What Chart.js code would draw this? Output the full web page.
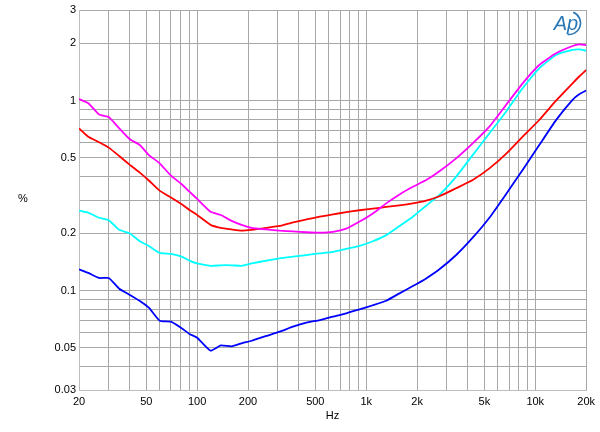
<!DOCTYPE html>
<html>
<head>
<meta charset="utf-8">
<script src="https://cdn.jsdelivr.net/npm/chart.js@4/dist/chart.umd.min.js"></script>
<style>
html,body{margin:0;padding:0;background:#fff;}
#wrap{width:600px;height:432px;position:relative;}
</style>
</head>
<body>
<div id="wrap"><canvas id="c" width="600" height="432"></canvas></div>
<script>
// Frequencies (Hz)
const freqs = [20, 22.7, 26.3, 30, 34.6, 40, 45.8, 51.8, 60, 70, 81, 90, 100, 120, 138, 160, 183, 210, 257, 308, 369, 443, 531, 636, 762, 914, 1095, 1313, 1574, 1888, 2264, 2712, 3405, 4265, 5354, 6716, 8420, 10560, 13270, 16620, 18200, 20000];

// THD+N (%) per trace
const magentaVals = [1.02, 0.97, 0.845, 0.82, 0.715, 0.626, 0.584, 0.517, 0.468, 0.403, 0.363, 0.332, 0.304, 0.260, 0.250, 0.233, 0.222, 0.214, 0.210, 0.207, 0.205, 0.203, 0.202, 0.204, 0.212, 0.231, 0.255, 0.288, 0.321, 0.352, 0.382, 0.425, 0.497, 0.596, 0.730, 0.949, 1.234, 1.54, 1.775, 1.94, 1.98, 1.96];
const redVals = [0.715, 0.646, 0.604, 0.566, 0.511, 0.459, 0.418, 0.38, 0.336, 0.309, 0.285, 0.266, 0.250, 0.222, 0.214, 0.210, 0.207, 0.209, 0.214, 0.219, 0.229, 0.237, 0.245, 0.252, 0.259, 0.265, 0.270, 0.276, 0.281, 0.288, 0.298, 0.314, 0.346, 0.382, 0.440, 0.525, 0.646, 0.791, 1.0, 1.234, 1.34, 1.45];
const cyanVals = [0.264, 0.257, 0.242, 0.235, 0.209, 0.200, 0.182, 0.172, 0.158, 0.156, 0.151, 0.144, 0.139, 0.135, 0.136, 0.136, 0.135, 0.139, 0.144, 0.148, 0.151, 0.154, 0.157, 0.160, 0.166, 0.172, 0.182, 0.196, 0.219, 0.245, 0.280, 0.319, 0.398, 0.517, 0.673, 0.875, 1.162, 1.48, 1.74, 1.85, 1.86, 1.83];
const blueVals = [0.1295, 0.124, 0.1166, 0.1166, 0.1024, 0.0949, 0.0882, 0.0813, 0.0695, 0.0687, 0.0634, 0.0592, 0.0565, 0.0483, 0.0515, 0.0509, 0.0528, 0.0545, 0.0578, 0.0608, 0.0646, 0.0678, 0.070, 0.073, 0.076, 0.0798, 0.0838, 0.0885, 0.0968, 0.1057, 0.116, 0.1295, 0.154, 0.190, 0.242, 0.322, 0.432, 0.584, 0.79, 1.01, 1.08, 1.13];

// Grid lines and tick labels
const xGrid = [20,30,40,50,60,70,80,90,100,200,300,400,500,600,700,800,900,1000,2000,3000,4000,5000,6000,7000,8000,9000,10000,20000];
const xLabelVals = [20, 50, 100, 200, 500, 1000, 2000, 5000, 10000, 20000];
const xLabelText = ['20', '50', '100', '200', '500', '1k', '2k', '5k', '10k', '20k'];
const yGrid = [0.03,0.04,0.05,0.06,0.07,0.08,0.09,0.1,0.2,0.3,0.4,0.5,0.6,0.7,0.8,0.9,1,2,3];
const yLabelVals = [0.03, 0.05, 0.1, 0.2, 0.5, 1, 2, 3];
const yLabelText = ['0.03', '0.05', '0.1', '0.2', '0.5', '1', '2', '3'];

function pts(vals){ return freqs.map((f,i)=>({x:f, y:vals[i]})); }
function lbl(vals, texts, v){
  for (let i=0;i<vals.length;i++){ if (Math.abs(vals[i]-v) < vals[i]*1e-6) return texts[i]; }
  return '';
}

const FONT = 'Liberation Sans, Arial, sans-serif';

const extras = {
  id: 'extras',
  afterDraw(chart){
    const ctx = chart.ctx;
    ctx.save();
    ctx.fillStyle = '#000';
    ctx.font = '11px ' + FONT;
    ctx.textAlign = 'center';
    ctx.textBaseline = 'middle';
    ctx.fillText('%', 23, 199);
    // Ap logo
    ctx.fillStyle = '#2b78b5';
    ctx.font = 'italic 20px ' + FONT;
    ctx.fillText('Ap', 566, 24);
    ctx.strokeStyle = '#2b78b5';
    ctx.lineWidth = 1.6;
    ctx.beginPath();
    ctx.arc(569, 23, 11.5, -1.2, 1.7);
    ctx.stroke();
    ctx.restore();
  }
};

const mk = (label, vals, color) => ({
  label, data: pts(vals), borderColor: color, backgroundColor: color,
  borderWidth: 1.8, pointRadius: 0, tension: 0.15, fill: false
});

new Chart(document.getElementById('c'), {
  type: 'line',
  data: {
    datasets: [
      mk('Magenta', magentaVals, '#ff00ff'),
      mk('Red', redVals, '#ff0000'),
      mk('Cyan', cyanVals, '#00ffff'),
      mk('Blue', blueVals, '#0000ff')
    ]
  },
  options: {
    responsive: false,
    animation: false,
    devicePixelRatio: 1,
    layout: { padding: { top: 10, right: 13, left: 0, bottom: 0 } },
    plugins: { legend: { display: false }, tooltip: { enabled: false } },
    scales: {
      x: {
        type: 'logarithmic', min: 20, max: 20000,
        afterBuildTicks: s => { s.ticks = xGrid.map(v => ({value: v})); },
        afterFit: s => { s.height = 42; },
        grid: { color: '#a8a8a8', lineWidth: 1, drawTicks: false },
        border: { color: '#bdbdbd', width: 1 },
        ticks: {
          autoSkip: false, maxRotation: 0, minRotation: 0, padding: 5,
          color: '#000', font: { family: FONT, size: 11 },
          callback: v => lbl(xLabelVals, xLabelText, v)
        },
        title: { display: true, text: 'Hz', color: '#000', font: { family: FONT, size: 11 }, padding: { top: 0, bottom: 9 } }
      },
      y: {
        type: 'logarithmic', min: 0.03, max: 3,
        afterBuildTicks: s => { s.ticks = yGrid.map(v => ({value: v})); },
        afterFit: s => { s.width = 79; },
        grid: { color: '#a8a8a8', lineWidth: 1, drawTicks: false },
        border: { color: '#bdbdbd', width: 1 },
        ticks: {
          autoSkip: false, padding: 3,
          color: '#000', font: { family: FONT, size: 11 },
          callback: v => lbl(yLabelVals, yLabelText, v)
        }
      }
    }
  },
  plugins: [extras]
});
</script>
</body>
</html>
